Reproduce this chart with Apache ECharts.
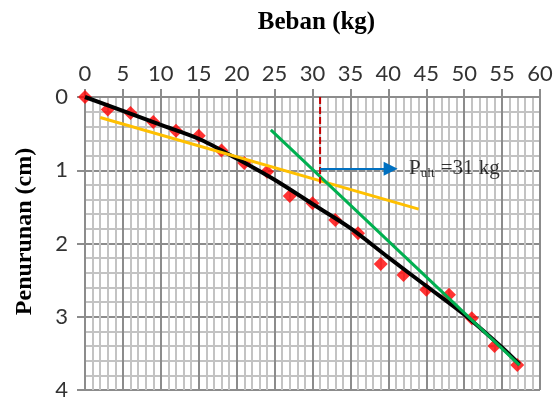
<!DOCTYPE html>
<html>
<head>
<meta charset="utf-8">
<script src="https://cdn.jsdelivr.net/npm/echarts@6/dist/echarts.min.js"></script>
<style>html,body{margin:0;padding:0;background:#fff;}#c{width:559px;height:403px;}</style>
</head>
<body>
<div id="c"></div>
<script>
// Measured data (Beban kg, Penurunan cm)
const bebanData = [0, 3, 6, 9, 12, 15, 18, 21, 24, 27, 30, 33, 36, 39, 42, 45, 48, 51, 54, 57];
const penurunanData = [0, 0.17, 0.22, 0.34, 0.46, 0.53, 0.73, 0.90, 1.02, 1.35, 1.45, 1.68, 1.86, 2.28, 2.43, 2.63, 2.70, 3.02, 3.40, 3.66];
// Trend curve (black)
const trendX = [0, 5, 10, 15, 20, 25, 30, 35, 40, 45, 50, 55, 57.3];
const trendY = [0, 0.19, 0.38, 0.57, 0.84, 1.13, 1.46, 1.79, 2.19, 2.58, 2.97, 3.42, 3.65];
// Tangent lines
const orangeLine = [[2, 0.28], [44, 1.53]];
const greenLine = [[24.5, 0.45], [57.3, 3.66]];
// Ultimate load marker
const pUlt = 31;
const dashedLine = [[31, 0], [31, 1.18]];
const arrowLine = [[31, 0.98], [40.3, 0.98]];
const labelPoint = [40.3, 0.98];
const xTicks = {min: 0, max: 60, interval: 5};
const yTicks = {min: 0, max: 4, interval: 1};

const chart = echarts.init(document.getElementById('c'));
const majorColor = '#8c8c8c', minorColor = '#c3c3c3';
const pts = bebanData.map((x, i) => [x, penurunanData[i]]);
const trend = trendX.map((x, i) => [x, trendY[i]]);

chart.setOption({
  animation: false,
  grid: {left: 85, right: 19, top: 97, bottom: 13},
  xAxis: {
    type: 'value', position: 'top', min: xTicks.min, max: xTicks.max, interval: xTicks.interval,
    name: 'Beban (kg)', nameLocation: 'middle', nameGap: 62,
    nameTextStyle: {fontFamily: 'Liberation Serif', fontWeight: 'bold', fontSize: 25, color: '#000', padding: [0, 0, 0, 8]},
    axisLine: {show: true, lineStyle: {color: majorColor, width: 2}},
    axisTick: {show: true, length: 8, lineStyle: {color: majorColor, width: 2}},
    axisLabel: {fontFamily: 'Lato', fontSize: 22, color: '#333', margin: 12},
    splitLine: {show: true, lineStyle: {color: majorColor, width: 2}},
    minorTick: {show: false, splitNumber: 5},
    minorSplitLine: {show: true, lineStyle: {color: minorColor, width: 2}}
  },
  yAxis: {
    type: 'value', inverse: true, min: yTicks.min, max: yTicks.max, interval: yTicks.interval,
    name: 'Penurunan (cm)', nameLocation: 'middle', nameGap: 48, nameRotate: 90,
    nameTextStyle: {fontFamily: 'Liberation Serif', fontWeight: 'bold', fontSize: 24, color: '#000', padding: [0, 0, 0, 24]},
    axisLine: {show: true, lineStyle: {color: majorColor, width: 2}},
    axisTick: {show: true, length: 8, lineStyle: {color: majorColor, width: 2}},
    axisLabel: {fontFamily: 'Lato', fontSize: 22, color: '#333', margin: 17},
    splitLine: {show: true, lineStyle: {color: majorColor, width: 2}},
    minorTick: {show: false, splitNumber: 5},
    minorSplitLine: {show: true, lineStyle: {color: minorColor, width: 2}}
  },
  series: [
    {type: 'scatter', data: pts, symbol: 'diamond', symbolSize: 14, itemStyle: {color: '#ff0000'}, z: 2},
    {type: 'line', data: trend, smooth: 0.3, showSymbol: false, symbol: 'none', lineStyle: {color: '#000', width: 4}, z: 3},
    {type: 'line', data: orangeLine, showSymbol: false, symbol: 'none', lineStyle: {color: '#ffc000', width: 3}, z: 4},
    {type: 'line', data: greenLine, showSymbol: false, symbol: 'none', lineStyle: {color: '#00b050', width: 3}, z: 5},
    {type: 'line', data: dashedLine, showSymbol: false, symbol: 'none', lineStyle: {color: '#c00000', width: 2, type: [7, 3]}, z: 6},
    {type: 'lines', coordinateSystem: 'cartesian2d', z: 7,
     symbol: ['none', 'triangle'], symbolSize: 14,
     lineStyle: {color: '#0070c0', width: 2, opacity: 1},
     data: [{coords: arrowLine}]},
    {type: 'scatter', data: [labelPoint], symbolSize: 1, itemStyle: {color: 'rgba(0,0,0,0)'}, z: 8,
     label: {show: true, position: 'right', distance: 18,
       formatter: '{p|P}{s|ult}{p| =31 kg}',
       rich: {
         p: {fontFamily: 'Liberation Serif', fontSize: 21, color: '#000'},
         s: {fontFamily: 'Liberation Serif', fontSize: 13, color: '#000', padding: [9, 1, 0, 0]}
       }}}
  ]
});
</script>
</body>
</html>
